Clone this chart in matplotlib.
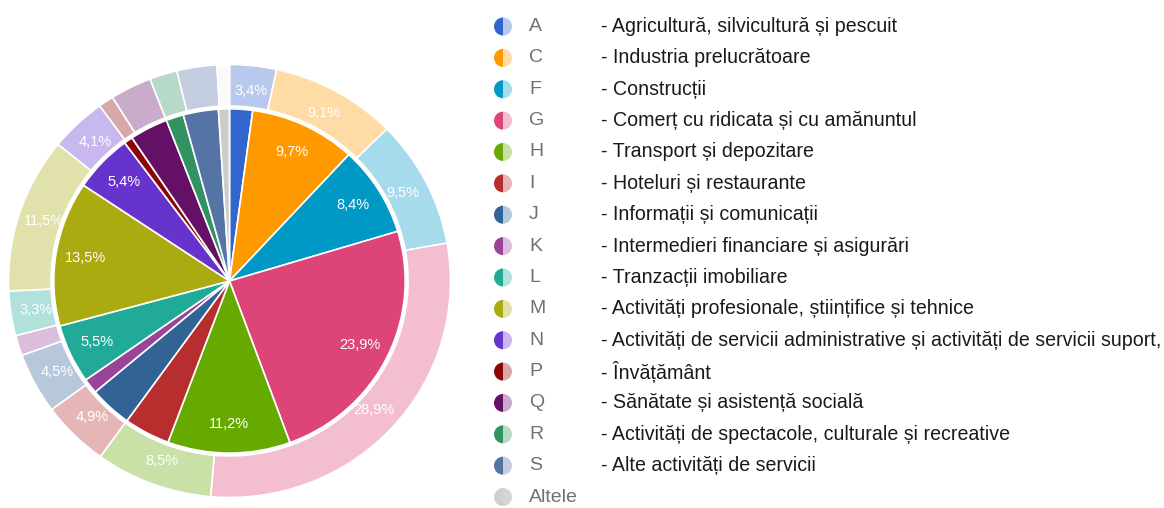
import matplotlib
matplotlib.use('Agg')
import matplotlib.pyplot as plt
import numpy as np
from matplotlib.patches import Wedge
from matplotlib import colors as mcolors

# sector codes and descriptions
codes = ['A', 'C', 'F', 'G', 'H', 'I', 'J', 'K', 'L', 'M', 'N', 'P', 'Q', 'R', 'S', 'Altele']
descriptions = [
	'- Agricultură, silvicultură și pescuit',
	'- Industria prelucrătoare',
	'- Construcții',
	'- Comerț cu ridicata și cu amănuntul',
	'- Transport și depozitare',
	'- Hoteluri și restaurante',
	'- Informații și comunicații',
	'- Intermedieri financiare și asigurări',
	'- Tranzacții imobiliare',
	'- Activități profesionale, științifice și tehnice',
	'- Activități de servicii administrative și activități de servicii suport,',
	'- Învățământ',
	'- Sănătate și asistență socială',
	'- Activități de spectacole, culturale și recreative',
	'- Alte activități de servicii',
	'',
]

# inner pie (%) and outer ring (%)
inner_values = [2.1, 9.7, 8.4, 23.9, 11.2, 4.2, 3.9, 1.4, 5.5, 13.5, 5.4, 0.8, 3.5, 1.6, 3.2, 1.0]
outer_values = [3.4, 9.1, 9.5, 28.9, 8.5, 4.9, 4.5, 1.5, 3.3, 11.5, 4.1, 1.1, 3.0, 2.0, 2.9, 0.9]

inner_colors = ['#3366cc', '#ff9900', '#0099c6', '#dd4477', '#66aa00', '#b82e2e', '#316395', '#994499',
				'#22aa99', '#aaaa11', '#6633cc', '#8b0707', '#651067', '#329262', '#5574a6', '#cccccc']


def lighten(c, amount=0.65):
	r, g, b = mcolors.to_rgb(c)
	return (r + (1 - r) * amount, g + (1 - g) * amount, b + (1 - b) * amount)


outer_colors = [lighten(c) for c in inner_colors]
outer_colors[-1] = '#fafafa'

W, H = 1164, 508
fig = plt.figure(figsize=(W / 100, H / 100), dpi=100)

# pie is slightly wider than tall in the reference
cx, cy = 229.5, 281
rx, ry = 221, 216.5
pad = 1.03
ax = fig.add_axes([(cx - rx * pad) / W, (H - cy - ry * pad) / H, 2 * rx * pad / W, 2 * ry * pad / H])

R_out, R_ring_in, R_in = 1.0, 0.808, 0.795

fmt = lambda v: f'{v:.1f}'.replace('.', ',') + '%'
lab_font = dict(color='white', fontsize=10.5, family=['Liberation Sans', 'DejaVu Sans'])

wedges, _ = ax.pie(outer_values, colors=outer_colors, radius=R_out, startangle=90, counterclock=False,
				   wedgeprops=dict(width=R_out - R_ring_in, edgecolor='white', linewidth=1.2, zorder=1))
for w, v in zip(wedges, outer_values):
	if v >= 3.3:
		ang = np.deg2rad((w.theta1 + w.theta2) / 2)
		r = 0.885
		ax.text(r * np.cos(ang), r * np.sin(ang), fmt(v), ha='center', va='center', zorder=1.5, **lab_font)

wedges, _ = ax.pie(inner_values, colors=inner_colors, radius=R_in, startangle=90, counterclock=False,
				   wedgeprops=dict(edgecolor='white', linewidth=1.2, zorder=2))
for w, v in zip(wedges, inner_values):
	if v >= 5:
		ang = np.deg2rad((w.theta1 + w.theta2) / 2)
		r = R_in * 0.83
		ax.text(r * np.cos(ang), r * np.sin(ang), fmt(v), ha='center', va='center', zorder=3, **lab_font)

ax.set_xlim(-pad, pad)
ax.set_ylim(-pad, pad)
ax.set_aspect('auto')
ax.axis('off')

# legend drawn in pixel coordinates
lg = fig.add_axes([0, 0, 1, 1])
lg.set_xlim(0, W)
lg.set_ylim(H, 0)
lg.axis('off')

y0, dy = 26.5, 31.37
for i, code in enumerate(codes):
	y = y0 + i * dy
	left = inner_colors[i]
	right = outer_colors[i]
	if code == 'Altele':
		left, right = '#d0d0d0', '#d6d6d6'
	lg.add_patch(Wedge((503, y), 9, 90, 270, color=left, lw=0))
	lg.add_patch(Wedge((503, y), 9, -90, 90, color=right, lw=0))
	lg.text(529, y, code, ha='left', va='center', color='#707070', fontsize=14,
			family=['Liberation Sans', 'DejaVu Sans'])
	if descriptions[i]:
		lg.text(601, y, descriptions[i], ha='left', va='center', color='#1a1a1a', fontsize=14.15,
				family=['Liberation Sans', 'DejaVu Sans'])

fig.savefig('out.png', dpi=100)
